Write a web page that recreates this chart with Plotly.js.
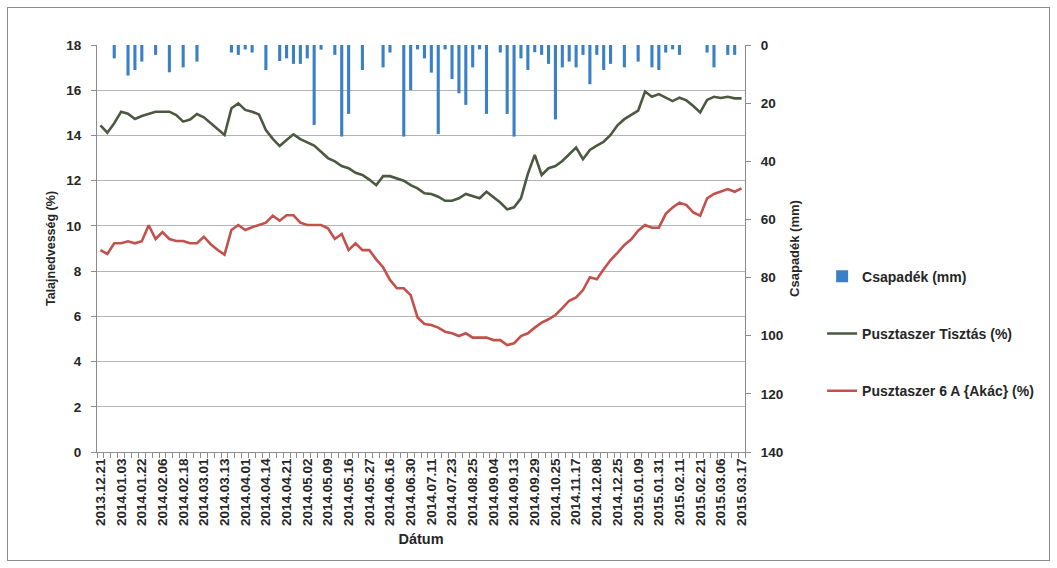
<!DOCTYPE html>
<html>
<head>
<meta charset="utf-8">
<script src="https://cdn.plot.ly/plotly-3.0.1.min.js"></script>
<style>
  html, body { margin: 0; padding: 0; background: #fff; }
  #wrap { position: relative; width: 1057px; height: 568px; }
  #chart { width: 1057px; height: 568px; }
  #frame { position: absolute; left: 7px; top: 7px; width: 1041px; height: 552px;
           border: 1px solid #8a8a8a; pointer-events: none; }
</style>
</head>
<body>
<div id="wrap"><div id="chart"></div><div id="frame"></div></div>
<script>
// Category tick labels (every 3rd measurement date is labelled)
const tickLabels = ['2013.12.21','2014.01.03','2014.01.22','2014.02.06','2014.02.18','2014.03.01',
  '2014.03.13','2014.04.01','2014.04.14','2014.04.21','2014.05.02','2014.05.09','2014.05.16',
  '2014.05.27','2014.06.16','2014.06.30','2014.07.11','2014.07.23','2014.08.25','2014.09.04',
  '2014.09.13','2014.09.29','2014.10.25','2014.11.17','2014.12.08','2014.12.25','2015.01.09',
  '2015.01.31','2015.02.11','2015.02.21','2015.03.06','2015.03.17'];
const labelEvery = 3;

// Csapadék (mm)
const csapadek = [0,0,4.6,0,10.5,8.6,5.7,0,3.4,0,9.4,0,7.7,0,5.7,0,0,0,0,2.6,
  3.4,1.5,2.6,0,8.6,0,5.5,4.6,6.5,6.5,4.6,27.5,1.6,0,3.4,31.5,23.7,0,8.6,0,
  0,7.7,2.6,0,31.5,15.5,1.5,4.6,9.5,30.6,1.5,11.7,16.6,20.6,7.7,1.5,23.7,0,2.6,23.7,
  31.5,4.6,8.6,2.5,3.4,6.5,25.6,7.7,5.7,7.7,3.4,13.5,3.4,8.6,6.5,0,7.7,0,5.7,0,
  7.7,8.6,2.6,1.5,3.4,0,0,0,2.6,7.7,0,3.4,3.4,0];

// Pusztaszer Tisztás (%)
const tisztas = [14.45,14.12,14.54,15.05,14.96,14.73,14.86,14.95,15.05,15.05,
  15.05,14.9,14.61,14.7,14.95,14.8,14.54,14.3,14.02,15.2,
  15.42,15.13,15.05,14.93,14.24,13.85,13.53,13.8,14.05,13.84,
  13.7,13.55,13.28,13.0,12.85,12.65,12.55,12.35,12.25,12.05,
  11.8,12.2,12.2,12.1,12.0,11.8,11.66,11.44,11.41,11.29,
  11.11,11.11,11.22,11.41,11.32,11.22,11.51,11.26,11.03,10.73,
  10.82,11.22,12.3,13.14,12.25,12.55,12.65,12.87,13.15,13.46,
  12.95,13.36,13.55,13.72,14.02,14.45,14.72,14.9,15.1,15.94,
  15.71,15.83,15.67,15.52,15.67,15.55,15.3,15.02,15.57,15.71,
  15.66,15.71,15.64,15.64];

// Pusztaszer 6 A {Akác} (%)
const akac = [8.93,8.76,9.23,9.23,9.32,9.23,9.32,10.03,9.42,9.73,
  9.42,9.33,9.33,9.23,9.23,9.52,9.19,8.93,8.73,9.82,
  10.04,9.82,9.94,10.04,10.14,10.45,10.23,10.47,10.47,10.14,
  10.04,10.04,10.04,9.89,9.42,9.64,8.93,9.23,8.93,8.93,
  8.52,8.17,7.61,7.24,7.24,6.94,5.95,5.66,5.62,5.5,
  5.32,5.25,5.13,5.25,5.06,5.06,5.06,4.95,4.95,4.73,
  4.81,5.13,5.25,5.5,5.72,5.87,6.06,6.36,6.69,6.84,
  7.16,7.73,7.64,8.08,8.49,8.81,9.16,9.41,9.79,10.04,
  9.92,9.92,10.53,10.81,11.03,10.92,10.6,10.45,11.22,11.41,
  11.51,11.63,11.51,11.66];

const xIdx = tisztas.map((_, i) => i);
const tickVals = tickLabels.map((_, i) => i * labelEvery);

const FONT = "'Liberation Sans', Arial, sans-serif";
const TXT = '#262626';

const traces = [
  { type: 'bar', name: 'Csapadék (mm)', x: xIdx, y: csapadek, yaxis: 'y2',
    marker: { color: '#3b80c6' }, legendgroup: 'a' },
  { type: 'scatter', mode: 'lines', name: 'Pusztaszer Tisztás (%)', x: xIdx, y: tisztas,
    line: { color: '#4b5940', width: 2.6 }, legendgroup: 'b' },
  { type: 'scatter', mode: 'lines', name: 'Pusztaszer 6 A {Akác} (%)', x: xIdx, y: akac,
    line: { color: '#c4504c', width: 2.6 }, legendgroup: 'c' }
];

const layout = {
  width: 1057, height: 568,
  margin: { l: 97, r: 312, t: 45, b: 116, autoexpand: false },
  paper_bgcolor: '#fff', plot_bgcolor: '#fff',
  font: { family: FONT, color: TXT, size: 13, weight: 700 },
  bargap: 0.55,
  showlegend: true,
  legend: { x: 1.119, y: 0.47, xanchor: 'left', yanchor: 'top', tracegroupgap: 36,
            font: { family: FONT, size: 14, color: TXT, weight: 700 }, bgcolor: 'rgba(0,0,0,0)' },
  xaxis: {
    range: [-0.5, tisztas.length - 0.5],
    tickmode: 'array', tickvals: tickVals, ticktext: tickLabels, tickangle: -90,
    ticks: '', showgrid: false, zeroline: false,
    showline: true, linecolor: '#8c8c8c', linewidth: 1,
    tickfont: { family: FONT, size: 13.5, color: TXT, weight: 700 },
    minor: { tickmode: 'linear', tick0: -0.5, dtick: 1, ticks: 'outside', ticklen: 5,
             tickcolor: '#8c8c8c', showgrid: false },
    title: { text: 'Dátum', font: { family: FONT, size: 14.5, color: TXT, weight: 700 }, standoff: 8 }
  },
  yaxis: {
    range: [0, 18], dtick: 2, tick0: 0,
    showgrid: true, gridcolor: '#b4b4b4', gridwidth: 1, zeroline: false,
    showline: true, linecolor: '#8c8c8c', linewidth: 1,
    ticks: 'outside', ticklen: 5, tickcolor: '#8c8c8c', ticklabelstandoff: 7,
    tickfont: { family: FONT, size: 13.5, color: TXT, weight: 700 },
    title: { text: 'Talajnedvesség (%)', font: { family: FONT, size: 12.5, color: TXT, weight: 700 }, standoff: 7 }
  },
  yaxis2: {
    overlaying: 'y', side: 'right',
    range: [140, 0], dtick: 20, tick0: 0,
    showgrid: false, zeroline: false,
    showline: true, linecolor: '#8c8c8c', linewidth: 1,
    ticks: 'outside', ticklen: 5, tickcolor: '#8c8c8c', ticklabelstandoff: 7,
    tickfont: { family: FONT, size: 13.5, color: TXT, weight: 700 },
    title: { text: 'Csapadék (mm)', font: { family: FONT, size: 13, color: TXT, weight: 700 }, standoff: 7 }
  }
};

Plotly.newPlot('chart', traces, layout, { displayModeBar: false, staticPlot: true });
</script>
</body>
</html>
